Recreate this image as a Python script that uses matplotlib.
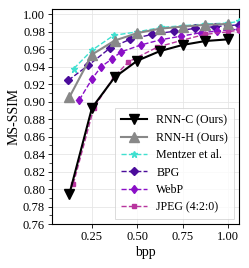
#!/usr/bin/env python3
"""MS-SSIM vs bpp rate-distortion curves."""

import matplotlib
matplotlib.use("Agg")
import matplotlib.pyplot as plt
from matplotlib.ticker import MultipleLocator, FormatStrFormatter

# Values
rnn_c_bpp = [0.125, 0.25, 0.375, 0.5, 0.625, 0.75, 0.875, 1.0]
rnn_c_ssim = [0.794, 0.893, 0.928, 0.947, 0.958, 0.965, 0.9695, 0.9714]

rnn_h_bpp = [0.125, 0.25, 0.375, 0.5, 0.625, 0.75, 0.875, 1.0]
rnn_h_ssim = [0.905, 0.954, 0.970, 0.9786, 0.9836, 0.986, 0.988, 0.989]

mentzer_bpp = [0.15, 0.25, 0.37, 0.5, 0.63, 0.75, 0.875, 1.0, 1.06]
mentzer_ssim = [0.938, 0.959, 0.976, 0.980, 0.985, 0.987, 0.989, 0.990, 0.992]

bpg_bpp = [0.12, 0.23, 0.35, 0.46, 0.58, 0.70, 0.82, 0.93, 1.06]
bpg_ssim = [0.9246, 0.9417, 0.9615, 0.9714, 0.977, 0.9806, 0.984, 0.986, 0.988]

webp_bpp = [0.18, 0.25, 0.30, 0.36, 0.41, 0.52, 0.63, 0.74, 0.85, 0.94, 1.06]
webp_ssim = [0.902, 0.926, 0.940, 0.949, 0.957, 0.965, 0.971, 0.975, 0.979, 0.981, 0.983]

jpeg_bpp = [0.147, 0.26, 0.37, 0.45, 0.61, 0.74, 0.87, 1.0, 1.06]
jpeg_ssim = [0.806, 0.893, 0.928, 0.9455, 0.9625, 0.970, 0.977, 0.980, 0.982]

plt.rcParams["font.family"] = ["Liberation Serif", "DejaVu Serif"]

fig = plt.figure(figsize=(2.49, 2.68), dpi=100)
ax = fig.add_axes([0.209, 0.164, 0.751, 0.802])

ax.grid(True, color="#e6e6e6", linewidth=0.6)
ax.set_axisbelow(True)

ax.plot(rnn_c_bpp, rnn_c_ssim, color="black", linestyle="-", linewidth=1.5,
        marker="v", markersize=6.5, label="RNN-C (Ours)", zorder=6)
ax.plot(rnn_h_bpp, rnn_h_ssim, color="#888888", linestyle="-", linewidth=1.5,
        marker="^", markersize=6.5, label="RNN-H (Ours)", zorder=5)
ax.plot(mentzer_bpp, mentzer_ssim, color="#40e0d0", linestyle="--", linewidth=1.0,
        marker="*", markersize=5, label="Mentzer et al.", zorder=4)
ax.plot(bpg_bpp, bpg_ssim, color="#4b0c9b", linestyle="--", linewidth=1.0,
        marker="D", markersize=4.5, label="BPG", zorder=4)
ax.plot(webp_bpp, webp_ssim, color="#8a0fc7", linestyle="--", linewidth=1.0,
        marker="d", markersize=4.5, label="WebP", zorder=4)
ax.plot(jpeg_bpp, jpeg_ssim, color="#b8359e", linestyle="--", linewidth=1.0,
        marker="s", markersize=3.5, label="JPEG (4:2:0)", zorder=5)

ax.set_xlim(0.03, 1.06)
ax.set_ylim(0.76, 1.006)
ax.set_xticks([0.25, 0.5, 0.75, 1.0])
ax.set_yticks([0.76 + 0.02 * i for i in range(13)])
ax.xaxis.set_major_formatter(FormatStrFormatter("%.2f"))
ax.yaxis.set_major_formatter(FormatStrFormatter("%.2f"))
ax.yaxis.set_minor_locator(MultipleLocator(0.01))
ax.tick_params(axis="both", which="major", labelsize=9, length=3, width=0.6, pad=2)
ax.tick_params(axis="y", which="minor", length=2, width=0.5)

for sp in ax.spines.values():
    sp.set_color("black")
    sp.set_linewidth(0.8)

ax.set_xlabel("bpp", fontsize=10, labelpad=2)
ax.set_ylabel("MS-SSIM", fontsize=10, labelpad=2)

leg = ax.legend(loc="lower right", fontsize=8.6, frameon=True, fancybox=False,
                edgecolor="#cccccc", borderpad=0.5, labelspacing=0.45,
                handlelength=2.2, borderaxespad=0.4)
leg.get_frame().set_linewidth(0.6)

fig.savefig("out.png", dpi=100)
